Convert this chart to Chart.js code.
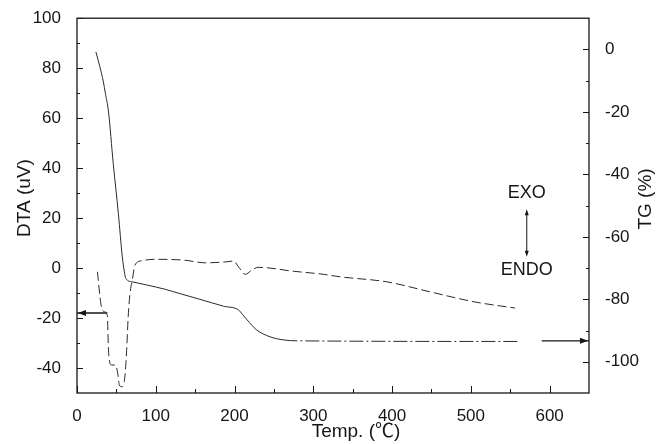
<!DOCTYPE html>
<html>
<head>
<meta charset="utf-8">
<title>DTA / TG</title>
<script src="https://cdn.jsdelivr.net/npm/chart.js@4.4.1/dist/chart.umd.min.js"></script>
<style>
  html, body { margin: 0; padding: 0; background: #fff; }
  #thermalChart { display: block; }
</style>
</head>
<body>
<canvas id="thermalChart" width="668" height="444"></canvas>
<script>
// DTA trace (left axis, uV) against temperature (°C)
const dtaTemp = [26, 28, 31, 35, 38.5, 39.8, 41, 44, 49, 51.6, 53.8, 56.7, 60, 61.8, 63, 65, 67.3, 70.2, 73.6, 82, 99,
  135, 163, 190, 199, 205, 213.5, 222, 230, 245, 270, 313, 334, 393, 448, 504, 556];
const dtaValues = [-1.5, -8, -15.5, -17.5, -19, -31.5, -36.8, -38.8, -38.8, -42, -46.8, -47.5, -45.5, -39.5, -33, -19.5, -10.1, -4.8, 1.2, 2.9, 3.5,
  3.2, 2.1, 2.5, 2.8, 0.5, -2.5, -0.8, 0.3, 0, -1.1, -2.5, -3.5, -5.5, -9.5, -13.5, -16];

// TG trace (right axis, %) against temperature (°C)
const tgTemp = [24, 29, 33.5, 36, 40, 46, 52.5, 57.5, 60, 62, 70, 90, 112, 131, 156, 186, 205, 210, 216, 228, 245, 262, 280, 561];
const tgValues = [-0.8, -5.5, -10.4, -14, -20, -36.5, -52.5, -66.4, -71, -73.3, -74.4, -75.5, -76.8, -78.2, -80, -82.2, -83.4, -84.8, -86.6, -89.8, -92, -93, -93.3, -93.5];

// short arrows telling which axis each trace belongs to
const dtaMarkerTemp = [0, 38.5];
const dtaMarkerValues = [-18, -18];
const tgMarkerTemp = [590, 650];
const tgMarkerValues = [-93.3, -93.3];

// tick labels
const tempTicks = [0, 100, 200, 300, 400, 500, 600];
const dtaTicks = [-40, -20, 0, 20, 40, 60, 80, 100];
const tgTicks = [-100, -80, -60, -40, -20, 0];

const FONT = '"Liberation Sans", Arial, "Noto Sans CJK SC", sans-serif';
const INK = '#161616';
const TRACE = '#2a2a2a';

const toPoints = (xs, ys) => xs.map((x, i) => ({ x, y: ys[i] }));

// frame, inward ticks, arrow heads, axis titles and the EXO/ENDO note
const thermalFrame = {
  id: 'thermalFrame',
  afterDraw(chart) {
    const { ctx, chartArea: area, scales } = chart;
    const xs = scales.x, dta = scales.y, tg = scales.tg;

    ctx.save();
    ctx.strokeStyle = INK;
    ctx.fillStyle = INK;
    ctx.lineWidth = 1.3;
    ctx.strokeRect(area.left, area.top, area.right - area.left, area.bottom - area.top);

    ctx.lineWidth = 1;
    const hTick = (scale, v, len) => {
      const px = Math.round(scale.getPixelForValue(v)) + 0.5;
      ctx.beginPath(); ctx.moveTo(px, area.bottom); ctx.lineTo(px, area.bottom - len); ctx.stroke();
    };
    const vTick = (scale, v, x0, len) => {
      const py = Math.round(scale.getPixelForValue(v)) + 0.5;
      ctx.beginPath(); ctx.moveTo(x0, py); ctx.lineTo(x0 + len, py); ctx.stroke();
    };
    tempTicks.forEach(v => { hTick(xs, v, 7); if (v + 50 < xs.max) hTick(xs, v + 50, 4); });
    dtaTicks.forEach(v => { vTick(dta, v, area.left, 6); if (v - 10 > dta.min) vTick(dta, v - 10, area.left, 3); });
    vTick(dta, 90, area.left, 3);
    tgTicks.forEach(v => { vTick(tg, v, area.right, -6); if (v - 10 > tg.min) vTick(tg, v - 10, area.right, -3); });

    // arrow heads on the axis markers
    const head = (x, y, dir) => {
      ctx.beginPath();
      ctx.moveTo(x, y);
      ctx.lineTo(x - dir * 8, y - 3);
      ctx.lineTo(x - dir * 8, y + 3);
      ctx.closePath();
      ctx.fill();
    };
    const dtaMark = chart.getDatasetMeta(2).data[0];
    head(dtaMark.x + 1, dtaMark.y, -1);
    const tgMark = chart.getDatasetMeta(3).data[1];
    head(tgMark.x - 1, tgMark.y, 1);

    // EXO / ENDO direction note
    const noteX = xs.getPixelForValue(571);
    ctx.font = '18px ' + FONT;
    ctx.textAlign = 'center';
    ctx.textBaseline = 'middle';
    ctx.fillText('EXO', noteX, dta.getPixelForValue(30));
    ctx.fillText('ENDO', noteX, dta.getPixelForValue(-0.8));
    const aTop = dta.getPixelForValue(23.5), aBot = dta.getPixelForValue(4.5);
    ctx.beginPath(); ctx.moveTo(noteX, aTop + 3); ctx.lineTo(noteX, aBot - 3); ctx.stroke();
    ctx.beginPath(); ctx.moveTo(noteX, aTop); ctx.lineTo(noteX - 2, aTop + 6); ctx.lineTo(noteX + 2, aTop + 6); ctx.closePath(); ctx.fill();
    ctx.beginPath(); ctx.moveTo(noteX, aBot); ctx.lineTo(noteX - 2, aBot - 6); ctx.lineTo(noteX + 2, aBot - 6); ctx.closePath(); ctx.fill();

    // axis titles
    ctx.font = '19px ' + FONT;
    ctx.fillText('Temp. (\u2103)', 356, 432);
    ctx.save();
    ctx.translate(25, 198);
    ctx.rotate(-Math.PI / 2);
    ctx.fillText('DTA (uV)', 0, 0);
    ctx.restore();
    ctx.save();
    ctx.translate(646, 199);
    ctx.rotate(-Math.PI / 2);
    ctx.fillText('TG (%)', 0, 0);
    ctx.restore();

    ctx.restore();
  }
};

const tickFont = { family: FONT, size: 17 };

new Chart(document.getElementById('thermalChart'), {
  type: 'scatter',
  data: {
    datasets: [
      {
        label: 'DTA',
        data: toPoints(dtaTemp, dtaValues),
        yAxisID: 'y',
        showLine: true,
        borderColor: TRACE,
        borderWidth: 1,
        borderDash: [9, 4],
        pointRadius: 0,
        cubicInterpolationMode: 'monotone'
      },
      {
        label: 'TG',
        data: toPoints(tgTemp, tgValues),
        yAxisID: 'tg',
        showLine: true,
        borderColor: TRACE,
        borderWidth: 1,
        pointRadius: 0,
        cubicInterpolationMode: 'monotone',
        segment: {
          borderDash: c => (c.p0.parsed.x >= 262 ? [14, 3, 2, 3] : undefined)
        }
      },
      {
        label: 'DTA axis',
        data: toPoints(dtaMarkerTemp, dtaMarkerValues),
        yAxisID: 'y',
        showLine: true,
        borderColor: INK,
        borderWidth: 1.4,
        pointRadius: 0
      },
      {
        label: 'TG axis',
        data: toPoints(tgMarkerTemp, tgMarkerValues),
        yAxisID: 'tg',
        showLine: true,
        borderColor: INK,
        borderWidth: 1.4,
        pointRadius: 0
      }
    ]
  },
  options: {
    responsive: false,
    animation: false,
    devicePixelRatio: 1,
    layout: { padding: { top: 18, left: 0, right: 0, bottom: 0 } },
    plugins: {
      legend: { display: false },
      tooltip: { enabled: false }
    },
    scales: {
      x: {
        type: 'linear',
        position: 'bottom',
        min: 0,
        max: 650,
        afterBuildTicks: s => { s.ticks = tempTicks.map(v => ({ value: v })); },
        afterFit: s => { s.height = 51; },
        grid: { display: false },
        border: { display: false },
        ticks: { color: INK, font: tickFont, padding: 5, maxRotation: 0, autoSkip: false }
      },
      y: {
        type: 'linear',
        position: 'left',
        min: -50,
        max: 100,
        afterBuildTicks: s => { s.ticks = dtaTicks.map(v => ({ value: v })); },
        afterFit: s => { s.width = 77; },
        grid: { display: false },
        border: { display: false },
        ticks: { color: INK, font: tickFont, padding: 8, autoSkip: false }
      },
      tg: {
        type: 'linear',
        position: 'right',
        min: -110,
        max: 10,
        afterBuildTicks: s => { s.ticks = tgTicks.map(v => ({ value: v })); },
        afterFit: s => { s.width = 79; },
        grid: { display: false },
        border: { display: false },
        ticks: { color: INK, font: tickFont, padding: 8, autoSkip: false }
      }
    }
  },
  plugins: [thermalFrame]
});
</script>
</body>
</html>
